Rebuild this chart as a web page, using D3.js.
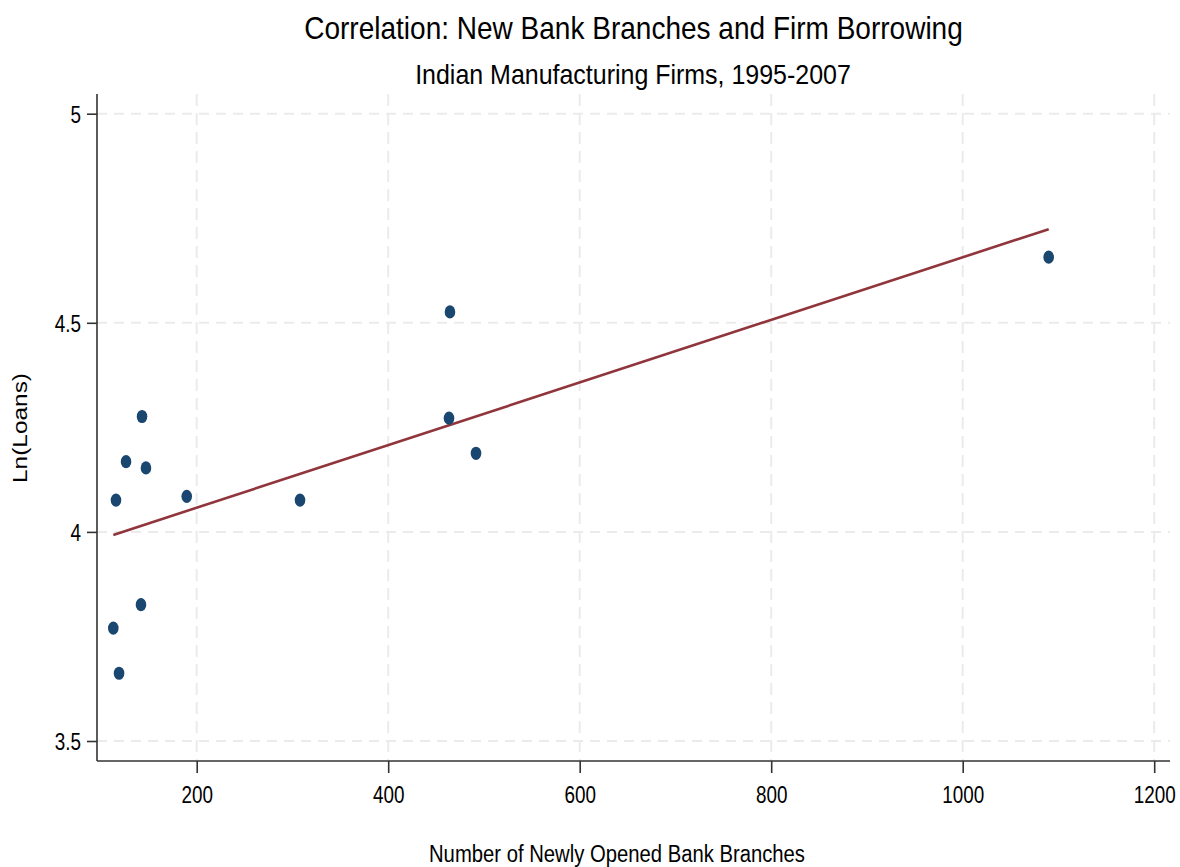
<!DOCTYPE html>
<html>
<head>
<meta charset="utf-8">
<script src="https://cdn.jsdelivr.net/npm/d3@7"></script>
<style>
  html, body { margin: 0; padding: 0; background: #fff; }
  svg { display: block; }
  text { font-family: "Liberation Sans", Arial, sans-serif; fill: #000; }
</style>
</head>
<body>
<svg id="chart" width="1180" height="867"></svg>
<script>
// ---- data ----
const branches = [142.9, 126.2, 147.0, 115.7, 189.6, 307.9, 141.8, 112.9, 118.9, 464.5, 463.5, 491.7, 1089.8];
const lnLoans  = [4.276, 4.168, 4.153, 4.076, 4.085, 4.076, 3.826, 3.770, 3.662, 4.526, 4.272, 4.188, 4.657];
const xTicks = [200, 400, 600, 800, 1000, 1200];
const yTicks = [3.5, 4, 4.5, 5];
const titleText = "Correlation: New Bank Branches and Firm Borrowing";
const subtitleText = "Indian Manufacturing Firms, 1995-2007";
const xLabelText = "Number of Newly Opened Bank Branches";
const yLabelText = "Ln(Loans)";

// ---- layout ----
const svg = d3.select("#chart");
const plotLeft = 97, plotRight = 1170, plotTop = 94, plotBottom = 761;
const x = d3.scaleLinear().domain([200, 1200]).range([196.7, 1154.2]);
const y = d3.scaleLinear().domain([3.5, 5]).range([741, 113.7]);
const sx = 0.77; // horizontal compression of glyphs

// grid
const grid = svg.append("g");
grid.selectAll("line.h").data(yTicks).join("line")
  .attr("x1", plotLeft).attr("x2", plotRight)
  .attr("y1", d => y(d)).attr("y2", d => y(d))
  .attr("stroke", "#ebebeb").attr("stroke-width", 2).attr("stroke-dasharray", "10,7");
grid.selectAll("line.v").data(xTicks).join("line")
  .attr("y1", plotTop).attr("y2", plotBottom)
  .attr("x1", d => x(d)).attr("x2", d => x(d))
  .attr("stroke", "#ebebeb").attr("stroke-width", 2).attr("stroke-dasharray", "12,7");

// axes
const xAxis = svg.append("g").attr("transform", `translate(0,${plotBottom})`)
  .call(d3.axisBottom(x).tickValues(xTicks).tickFormat(d3.format("d")).tickSize(12).tickPadding(13));
const yAxis = svg.append("g").attr("transform", `translate(${plotLeft},0)`)
  .call(d3.axisLeft(y).tickValues(yTicks).tickFormat(d => String(d)).tickSize(10).tickPadding(6));
[xAxis, yAxis].forEach(a => {
  a.select(".domain").remove();
  a.selectAll(".tick line").attr("stroke", "#333").attr("stroke-width", 1.6);
  a.selectAll("text").attr("font-size", 24.5).attr("fill", "#000")
    .style("font-family", '"Liberation Sans", Arial, sans-serif');
});
xAxis.selectAll("text").attr("transform", `scale(${sx},1)`);
yAxis.selectAll("text").attr("x", -16 / sx).attr("dy", "0.36em").attr("transform", `scale(${sx},1)`);

svg.append("line").attr("x1", plotLeft).attr("x2", plotLeft).attr("y1", plotTop).attr("y2", plotBottom)
  .attr("stroke", "#333").attr("stroke-width", 1.6);
svg.append("line").attr("x1", plotLeft).attr("x2", plotRight).attr("y1", plotBottom).attr("y2", plotBottom)
  .attr("stroke", "#333").attr("stroke-width", 1.6);

// fitted line (OLS)
const pts = branches.map((b, i) => ({x: b, y: lnLoans[i]}));
const mx = d3.mean(pts, d => d.x), my = d3.mean(pts, d => d.y);
const slope = d3.sum(pts, d => (d.x - mx) * (d.y - my)) / d3.sum(pts, d => (d.x - mx) ** 2);
const icpt = my - slope * mx;
const [xmin, xmax] = d3.extent(branches);
const fit = [xmin, xmax].map(v => ({x: v, y: icpt + slope * v}));
svg.append("path").datum(fit)
  .attr("d", d3.line().x(d => x(d.x)).y(d => y(d.y)))
  .attr("fill", "none").attr("stroke", "#90353b").attr("stroke-width", 2.6);

// points
svg.append("g").selectAll("ellipse").data(pts).join("ellipse")
  .attr("cx", d => x(d.x)).attr("cy", d => y(d.y))
  .attr("rx", 5.3).attr("ry", 6.6).attr("fill", "#1a476f");

// text fitting helper
function fitText(txt, cx, cy, size, target, rotate) {
  const t = svg.append("text").text(txt).attr("font-size", size)
    .attr("text-anchor", "middle").attr("x", 0).attr("y", 0);
  const len = t.node().getComputedTextLength();
  const s = target / len;
  t.attr("transform", `translate(${cx},${cy})${rotate ? " rotate(-90)" : ""} scale(${s},1)`);
  return t;
}
fitText(titleText, 633.5, 39.3, 31.5, 659);
fitText(subtitleText, 633, 84.3, 28, 436);
fitText(xLabelText, 617, 861.7, 23.3, 376);
fitText(yLabelText, 27.3, 428, 21, 110, true);
</script>
</body>
</html>
